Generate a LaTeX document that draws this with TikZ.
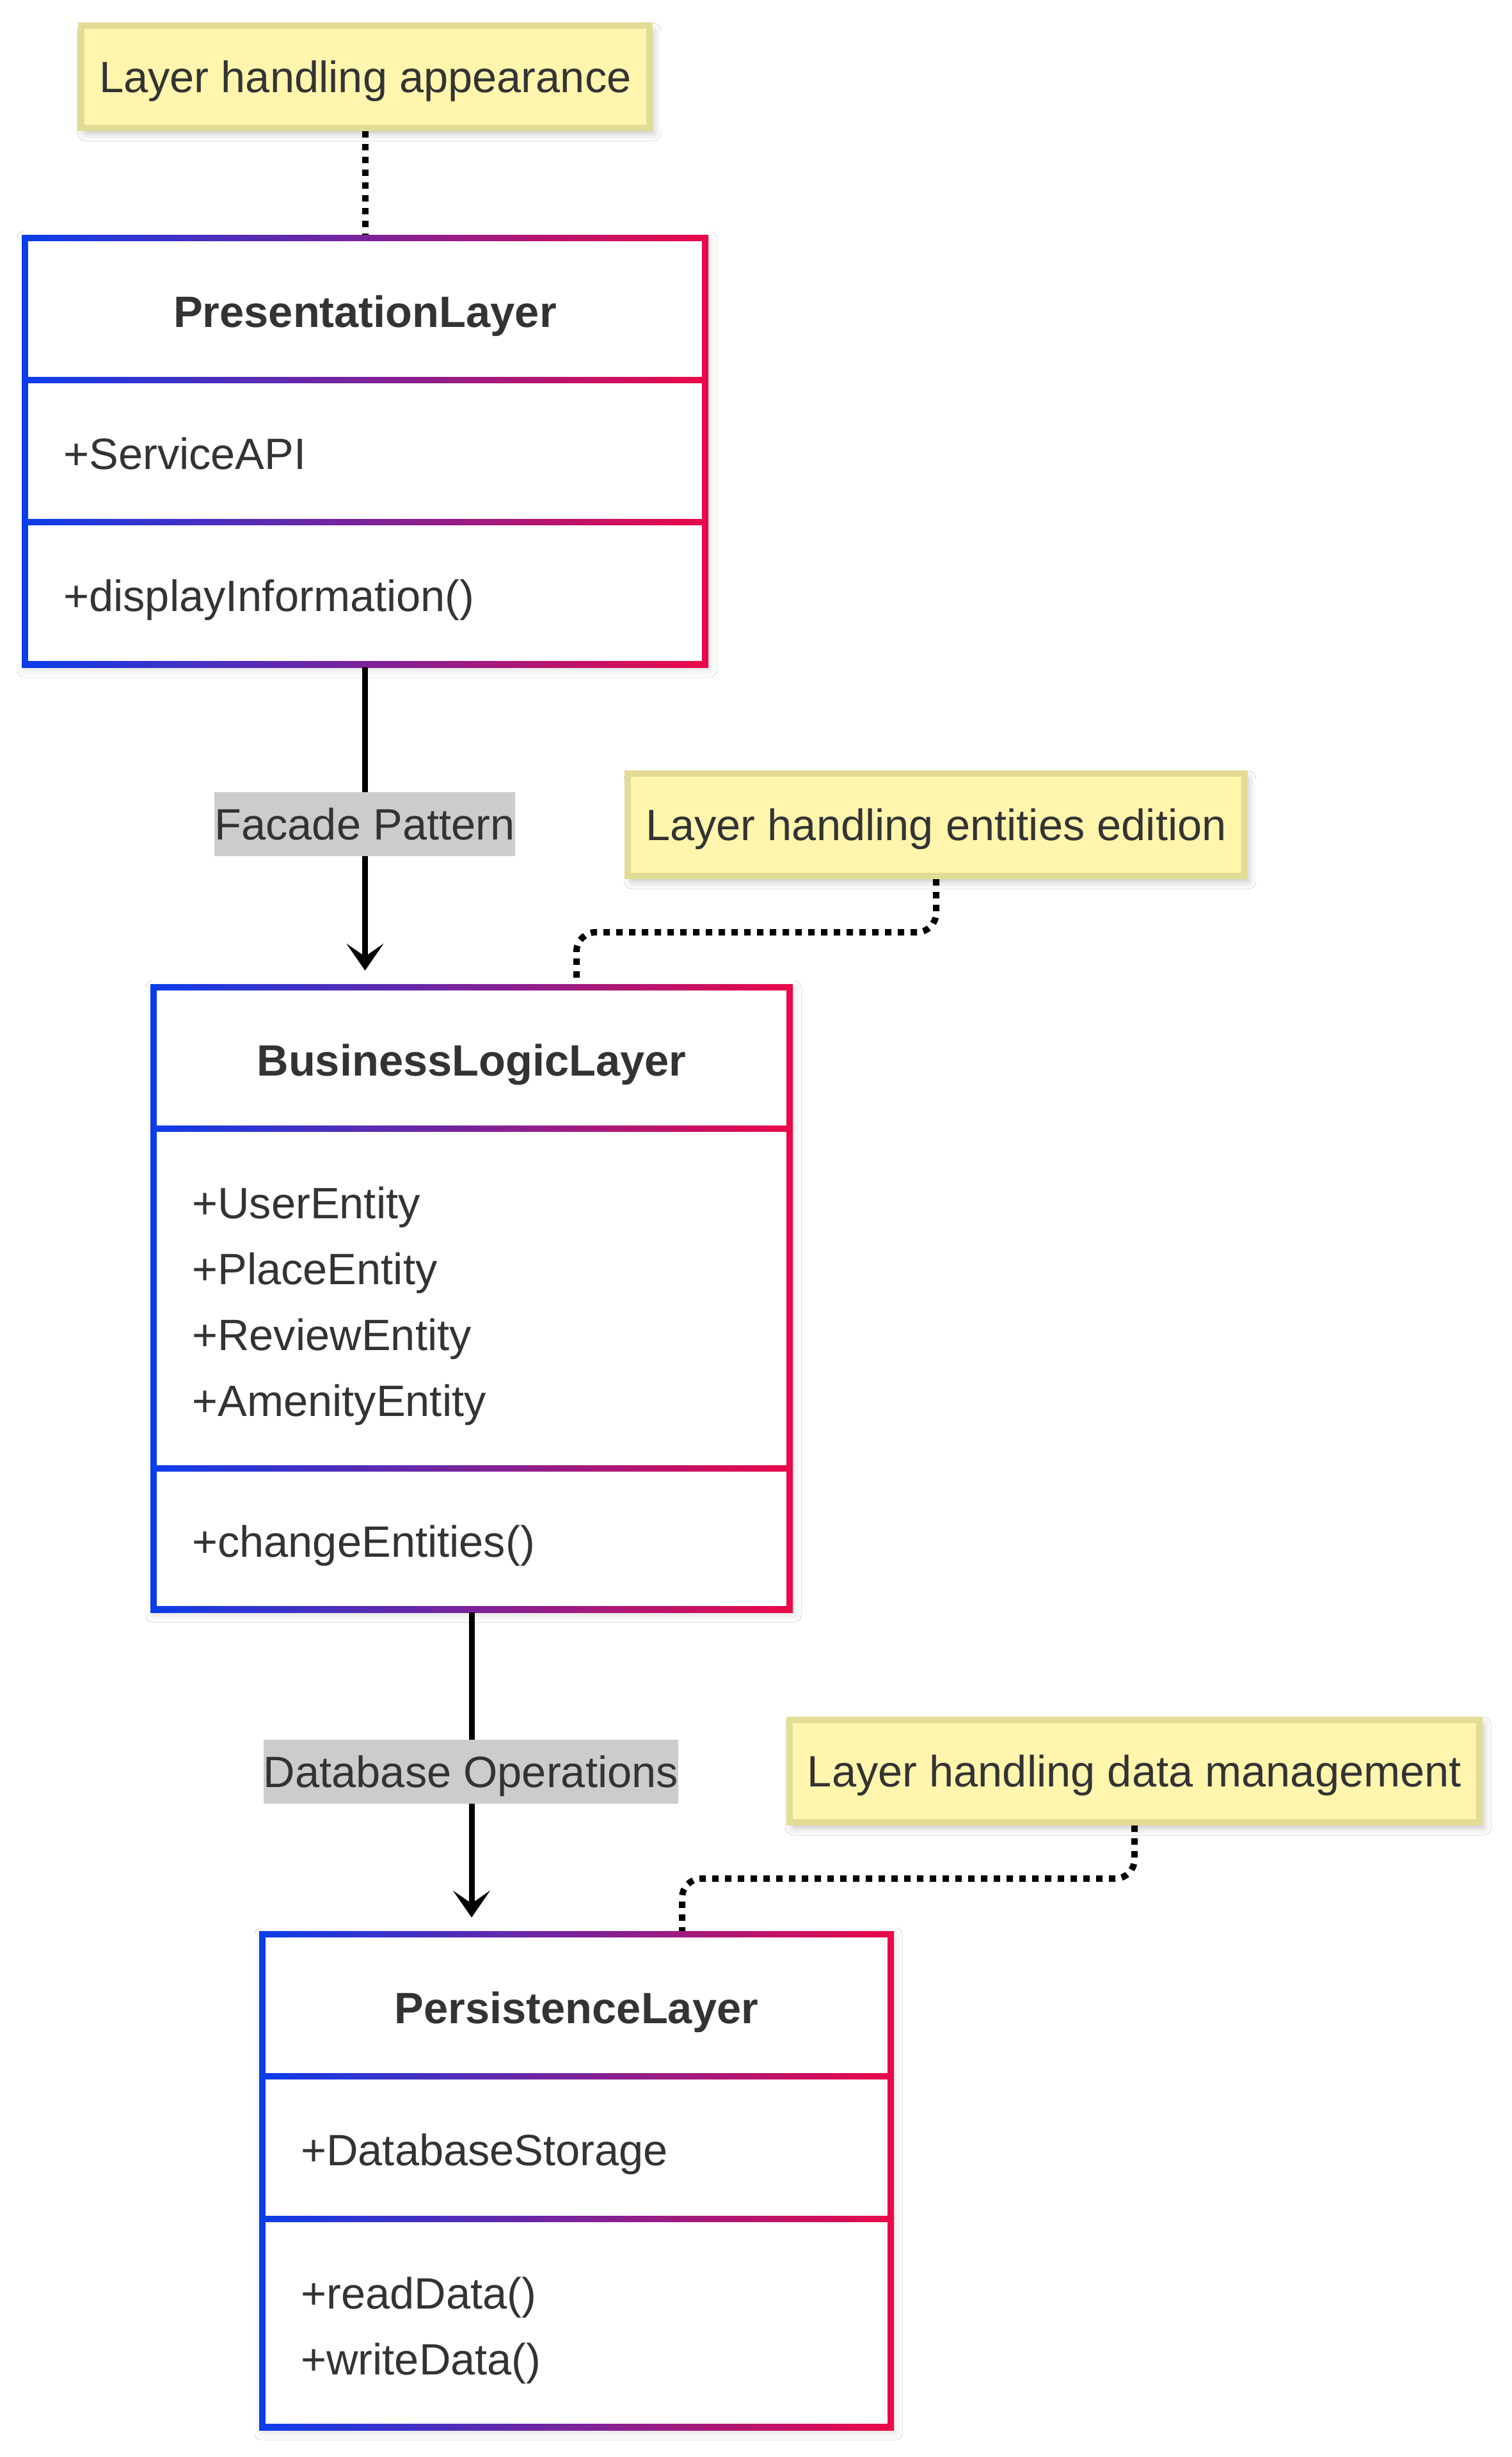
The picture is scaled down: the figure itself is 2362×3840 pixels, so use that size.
\documentclass[tikz,border=0pt]{standalone}
\usepackage{fontspec}
\setmainfont{Liberation Sans}
\usetikzlibrary{arrows.meta,shadows.blur,calc}
\definecolor{cblue}{HTML}{0B3DEB}
\definecolor{cred}{HTML}{EB0848}
\definecolor{txt}{HTML}{333333}
\definecolor{notefill}{HTML}{FFF5AD}
\definecolor{notedraw}{HTML}{E3DC96}
\definecolor{lblfill}{HTML}{CCCCCC}
\tikzset{
  classframe/.style={rectangle, inner sep=0pt, left color=cblue, right color=cred,
    blur shadow={shadow xshift=3pt, shadow yshift=-5pt, shadow blur radius=10pt, shadow opacity=12}},
  titletext/.style={anchor=base, inner sep=0pt, font=\fontsize{68.6pt}{103pt}\selectfont\bfseries},
  membertext/.style={anchor=base west, inner sep=0pt},
  notebox/.style={draw=notedraw, fill=notefill, line width=10pt, minimum height=160pt,
    inner xsep=28pt, inner ysep=0pt, text height=49pt, text depth=0pt,
    blur shadow={shadow xshift=6pt, shadow yshift=-8pt, shadow blur radius=12pt, shadow opacity=25}},
  elabel/.style={fill=lblfill, inner xsep=0pt, inner ysep=0pt, minimum height=100pt,
    text height=49pt, text depth=0pt},
  flow/.style={draw=black, line width=9pt, -{Stealth[length=42pt,width=58pt,inset=20pt]}},
  noteline/.style={draw=black, line width=10pt, dash pattern=on 10pt off 10pt, rounded corners=30pt},
}
\newcommand\umlclass[7]{%
  \node[classframe, minimum width={#3-#2+10}, minimum height={#7-#4+10}] (#1) at ({(#2+#3)/2},{(#4+#7)/2}) {};
  \fill[white] ({#2+5},{#4+5}) rectangle ({#3-5},{#5-5});
  \fill[white] ({#2+5},{#5+5}) rectangle ({#3-5},{#6-5});
  \fill[white] ({#2+5},{#6+5}) rectangle ({#3-5},{#7-5});
}
\begin{document}
\begin{tikzpicture}[x=1pt, y=-1pt, font=\fontsize{68.6pt}{103pt}\selectfont, text=txt]
\useasboundingbox[fill=white] (0,0) rectangle (2362,3840);

% classes
\umlclass{pres}{39}{1102}{372}{594}{816}{1038}
\umlclass{biz}{240}{1234}{1543}{1764}{2295}{2515}
\umlclass{pers}{410}{1392}{3023}{3245}{3468}{3793}

\node[titletext] (presT) at (570.5,511) {PresentationLayer};
\node[membertext] (presA) at (99,733) {+ServiceAPI};
\node[membertext] (presM) at (99,955) {+displayInformation()};

\node[titletext] (bizT) at (737,1681.5) {BusinessLogicLayer};
\node[membertext] (bizA1) at (300,1904) {+UserEntity};
\node[membertext] (bizA2) at (300,2007) {+PlaceEntity};
\node[membertext] (bizA3) at (300,2110) {+ReviewEntity};
\node[membertext] (bizA4) at (300,2213) {+AmenityEntity};
\node[membertext] (bizM) at (300,2433) {+changeEntities()};

\node[titletext] (persT) at (901,3162) {PersistenceLayer};
\node[membertext] (persA) at (470,3384.5) {+DatabaseStorage};
\node[membertext] (persM1) at (470,3608) {+readData()};
\node[membertext] (persM2) at (470,3711) {+writeData()};

% notes
\node[notebox] (n1) at (571,120) {Layer handling appearance};
\node[notebox] (n2) at (1463,1289) {Layer handling entities edition};
\node[notebox] (n3) at (1773,2768) {Layer handling data management};

% note connectors
\draw[noteline] (n1.south) -- (n1.south |- pres.north);
\coordinate (c2) at (901,1457);
\draw[noteline] (n2.south) |- (c2) -- (c2 |- biz.north);
\coordinate (c3) at (1066,2936);
\draw[noteline] (n3.south) |- (c3) -- (c3 |- pers.north);

% relations
\draw[flow] (pres.south) -- ($(pres.south |- biz.north)+(0,-21)$);
\node[elabel] (lbl1) at (570,1288) {Facade Pattern};
\draw[flow] (biz.south) -- ($(biz.south |- pers.north)+(0,-21)$);
\node[elabel] (lbl2) at (736,2769) {Database Operations};
\end{tikzpicture}
\end{document}
